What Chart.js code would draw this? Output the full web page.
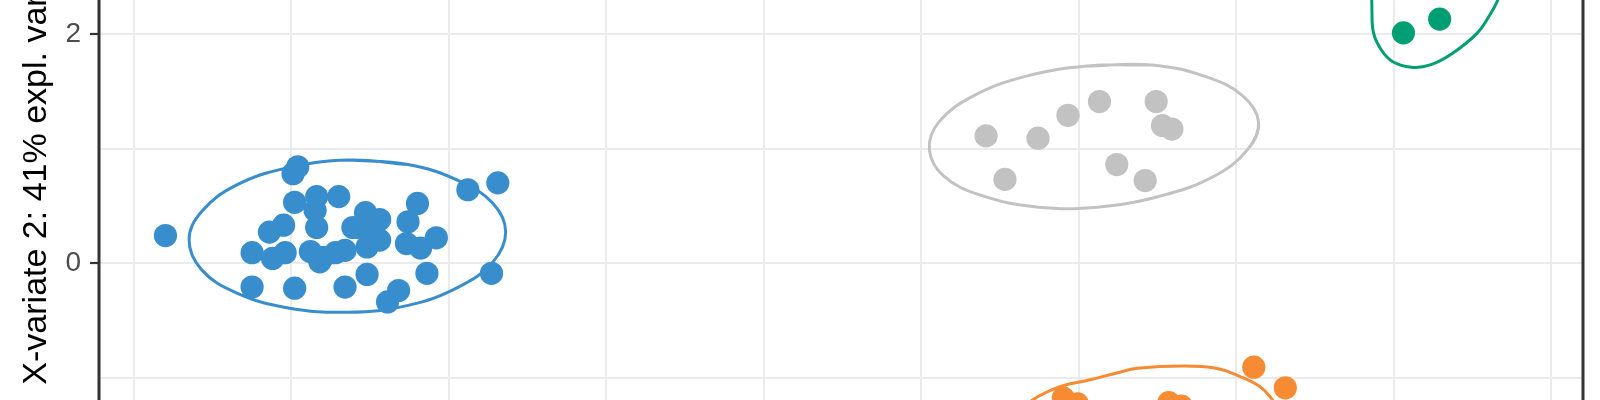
<!DOCTYPE html>
<html>
<head>
<meta charset="utf-8">
<script src="https://cdn.jsdelivr.net/npm/chart.js@4/dist/chart.umd.min.js"></script>
<style>
  html, body { margin: 0; padding: 0; background: #ffffff; overflow: hidden; }
  #wrap { position: absolute; left: 0; top: -36px; width: 1600px; height: 452px; }
</style>
</head>
<body>
<div id="wrap"><canvas id="indivPlot"></canvas></div>
<script>
// axis ticks / grid
const yTickValues = [-1, 0, 1, 2];
const yTickLabels = ['', '0', '', '2'];
const xGridValues = [-3, -2, -1, 0, 1, 2, 3, 4, 5, 6];
const yTitle = 'X-variate 2: 41% expl. var';

// sample scores (X-variate 1, X-variate 2)
const groupBlue = [
  [-2.80, 0.24], [-1.96, 0.84], [-1.99, 0.78], [-1.98, 0.53], [-1.84, 0.58],
  [-1.85, 0.46], [-1.70, 0.58], [-2.14, 0.27], [-2.05, 0.33], [-1.84, 0.31],
  [-2.25, 0.09], [-2.12, 0.04], [-2.04, 0.09], [-1.88, 0.10], [-1.80, 0.05],
  [-1.72, 0.09], [-1.82, 0.01], [-2.25, -0.21], [-1.98, -0.22], [-1.66, -0.21],
  [-1.52, -0.10], [-1.53, 0.44], [-1.44, 0.38], [-1.61, 0.31], [-1.48, 0.26],
  [-1.52, 0.14], [-1.44, 0.20], [-1.66, 0.11], [-1.20, 0.52], [-1.26, 0.36],
  [-1.27, 0.17], [-1.18, 0.13], [-1.08, 0.22], [-0.88, 0.64], [-0.69, 0.70],
  [-1.14, -0.09], [-0.73, -0.09], [-1.32, -0.24], [-1.39, -0.34], [-1.57, 0.31]
];
const groupGrey = [
  [2.41, 1.11], [2.74, 1.09], [2.93, 1.29], [3.13, 1.41], [3.49, 1.41],
  [3.53, 1.20], [3.59, 1.17], [2.53, 0.73], [3.24, 0.86], [3.42, 0.72]
];
const groupGreen = [[5.06, 2.01], [5.29, 2.13]];
const groupOrange = [
  [4.11, -0.91], [4.31, -1.09], [2.90, -1.18], [2.99, -1.23], [3.57, -1.22], [3.65, -1.25]
];

// confidence ellipse outlines (closed ones wrap past the start)
const ellipseBlue = [
  [-1.64, 0.90], [-1.26, 0.86], [-0.94, 0.72], [-0.72, 0.52], [-0.64, 0.27],
  [-0.72, 0.01], [-0.94, -0.21], [-1.26, -0.37], [-1.64, -0.43], [-2.03, -0.39],
  [-2.35, -0.26], [-2.57, -0.06], [-2.65, 0.20], [-2.57, 0.45], [-2.35, 0.68],
  [-2.03, 0.83], [-1.64, 0.90], [-1.26, 0.86]
];
const ellipseGrey = [
  [3.05, 1.72], [3.46, 1.73], [3.80, 1.63], [4.04, 1.46], [4.14, 1.23],
  [4.07, 0.99], [3.86, 0.76], [3.53, 0.59], [3.13, 0.49], [2.73, 0.49],
  [2.38, 0.59], [2.14, 0.76], [2.05, 0.99], [2.11, 1.23], [2.33, 1.46],
  [2.66, 1.63], [3.05, 1.72], [3.46, 1.73]
];
const ellipseGreen = [
  [4.86, 2.47], [4.86, 2.21], [4.87, 2.01], [4.92, 1.86], [4.99, 1.76],
  [5.11, 1.71], [5.23, 1.73], [5.37, 1.83], [5.53, 2.01], [5.61, 2.17],
  [5.65, 2.27], [5.70, 2.43]
];
const ellipseOrange = [
  [2.63, -1.30], [2.70, -1.20], [2.88, -1.08], [3.07, -1.02], [3.24, -0.96],
  [3.37, -0.92], [3.66, -0.90], [3.87, -0.92], [4.02, -0.99], [4.15, -1.08],
  [4.22, -1.18], [4.28, -1.30]
];

const colBlue = '#388ECC';
const colGrey = '#C2C2C2';
const colGreen = '#009E73';
const colOrange = '#F68B33';

const toXY = arr => arr.map(p => ({ x: p[0], y: p[1] }));

function pointsSet(label, arr, color) {
  return {
    label: label,
    data: toXY(arr),
    backgroundColor: color,
    borderWidth: 0,
    pointRadius: 11.6,
    order: 0
  };
}

function ellipseSet(label, arr, color) {
  return {
    label: label,
    data: toXY(arr),
    showLine: true,
    borderColor: color,
    borderWidth: 3,
    pointRadius: 0,
    tension: 0.4,
    capBezierPoints: false,
    fill: false,
    order: 1
  };
}

// ggplot-style panel border round the chart area
const panelBorder = {
  id: 'panelBorder',
  afterDatasetsDraw(chart) {
    const { ctx, chartArea: a } = chart;
    ctx.save();
    ctx.strokeStyle = '#333333';
    ctx.lineWidth = 3;
    ctx.strokeRect(a.left, a.top, a.right - a.left, a.bottom - a.top);
    ctx.restore();
  }
};

const ctx = document.getElementById('indivPlot').getContext('2d');

new Chart(ctx, {
  type: 'scatter',
  data: {
    datasets: [
      pointsSet('blue', groupBlue, colBlue),
      pointsSet('grey', groupGrey, colGrey),
      pointsSet('green', groupGreen, colGreen),
      pointsSet('orange', groupOrange, colOrange),
      ellipseSet('blue ellipse', ellipseBlue, colBlue),
      ellipseSet('grey ellipse', ellipseGrey, colGrey),
      ellipseSet('green ellipse', ellipseGreen, colGreen),
      ellipseSet('orange ellipse', ellipseOrange, colOrange)
    ]
  },
  options: {
    responsive: true,
    maintainAspectRatio: false,
    animation: false,
    layout: { autoPadding: false, padding: { left: 0, right: 17, top: 0, bottom: 0 } },
    elements: { line: { capBezierPoints: false } },
    plugins: { legend: { display: false }, tooltip: { enabled: false } },
    scales: {
      x: {
        type: 'linear',
        min: -3.222,
        max: 6.2,
        afterBuildTicks: axis => { axis.ticks = xGridValues.map(v => ({ value: v })); },
        afterFit: axis => { axis.height = 0; axis.paddingLeft = 0; axis.paddingRight = 0; },
        ticks: { display: false },
        border: { display: false },
        grid: { color: '#EBEBEB', lineWidth: 2, drawTicks: false }
      },
      y: {
        type: 'linear',
        min: -1.3362,
        max: 2.6114,
        afterBuildTicks: axis => { axis.ticks = yTickValues.map(v => ({ value: v })); },
        afterFit: axis => { axis.width = 99; axis.paddingTop = 0; axis.paddingBottom = 0; },
        ticks: {
          callback: (v, i) => yTickLabels[i],
          color: '#4D4D4D',
          padding: 9,
          font: { family: "'Liberation Sans', Arial, sans-serif", size: 28 }
        },
        border: { display: false },
        grid: {
          color: '#EBEBEB',
          lineWidth: 2,
          tickLength: 9,
          tickWidth: 2.2,
          tickColor: c => (yTickLabels[c.index] ? '#333333' : 'rgba(0,0,0,0)')
        },
        title: {
          display: true,
          text: yTitle,
          color: '#000000',
          padding: { top: 16, bottom: 0 },
          font: { family: "'Liberation Sans', Arial, sans-serif", size: 34 }
        }
      }
    }
  },
  plugins: [panelBorder]
});
</script>
</body>
</html>
